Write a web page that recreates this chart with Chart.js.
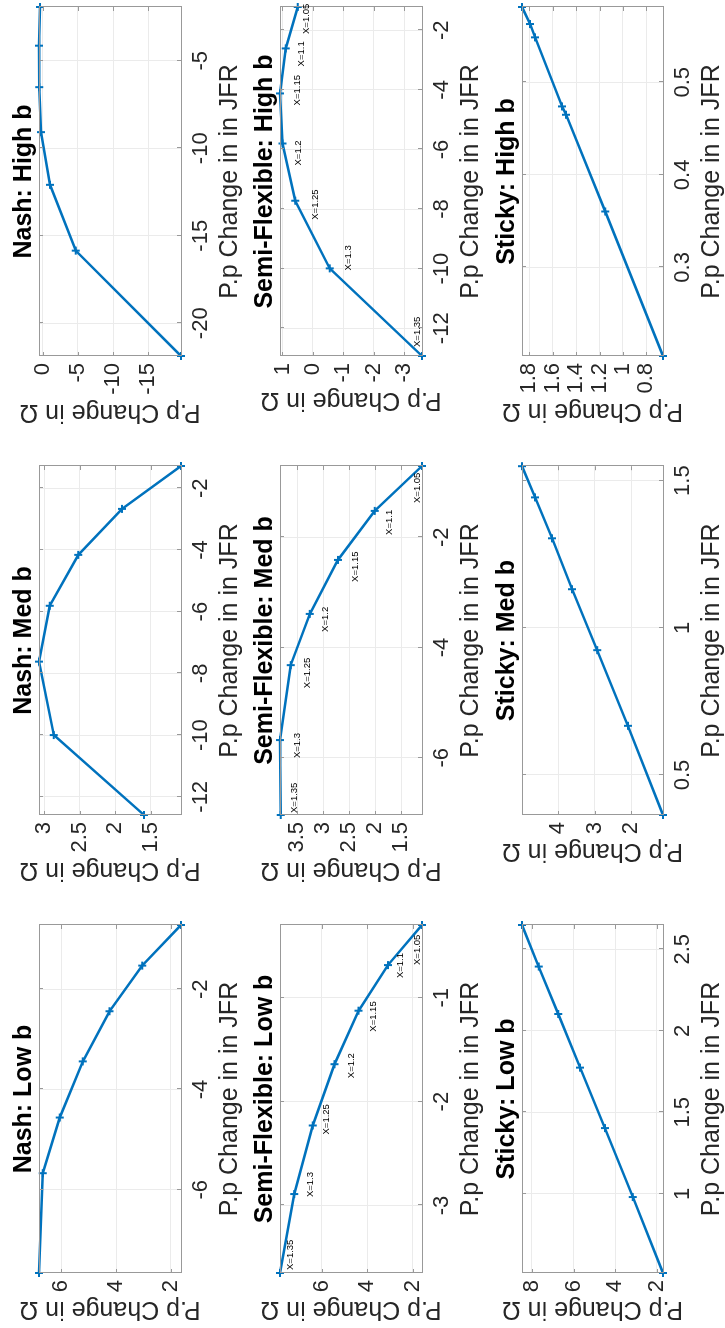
<!DOCTYPE html>
<html>
<head>
<meta charset="utf-8">
<script src="https://cdn.jsdelivr.net/npm/chart.js@4.4.1/dist/chart.umd.min.js"></script>
<style>
  html, body { margin: 0; padding: 0; background: #fff; overflow: hidden; width: 725px; height: 1328px; }
  /* the 3x3 figure is laid out landscape and turned a quarter turn */
  #fig { position: absolute; left: 0; top: 0; width: 1328px; height: 725px; background: #fff;
         transform-origin: 0 0; transform: translate(0, 1328px) rotate(-90deg); }
  #fig canvas { position: absolute; }
</style>
</head>
<body>
<div id="fig"></div>
<script>
// ---- data: percentage-point changes in JFR (x) and in Ω (y) ----
const markupLabels = ['X=1.35', 'X=1.3', 'X=1.25', 'X=1.2', 'X=1.15', 'X=1.1', 'X=1.05'];

const nashLowJFR    = [-7.66, -5.67, -4.56, -3.44, -2.44, -1.53, -0.72];
const nashLowOmega  = [6.82, 6.68, 6.06, 5.22, 4.24, 3.05, 1.63];
const nashMedJFR    = [-12.59, -10.0, -7.62, -5.81, -4.16, -2.67, -1.28];
const nashMedOmega  = [1.595, 2.863, 3.071, 2.92, 2.518, 1.903, 1.075];
const nashHighJFR   = [-21.87, -15.85, -12.09, -9.08, -6.51, -4.14, -1.93];
const nashHighOmega = [-19.66, -4.70, -1.05, 0.24, 0.50, 0.52, 0.38];

const semiLowJFR    = [-3.65, -2.89, -2.23, -1.64, -1.125, -0.686, -0.30];
const semiLowOmega  = [7.84, 7.21, 6.40, 5.44, 4.38, 3.09, 1.59];
const semiMedJFR    = [-7.04, -5.68, -4.32, -3.39, -2.41, -1.52, -0.705];
const semiMedOmega  = [3.82, 3.835, 3.63, 3.26, 2.72, 2.01, 1.10];
const semiHighJFR   = [-12.93, -9.99, -7.72, -5.80, -4.12, -2.61, -1.22];
const semiHighOmega = [-3.58, -0.55, 0.58, 1.0, 1.08, 0.89, 0.50];

const stickyLowJFR    = [0.514, 0.980, 1.403, 1.774, 2.103, 2.394, 2.649];
const stickyLowOmega  = [1.71, 3.16, 4.50, 5.69, 6.74, 7.68, 8.48];
const stickyMedJFR    = [0.364, 0.667, 0.924, 1.131, 1.304, 1.443, 1.549];
const stickyMedOmega  = [1.128, 2.092, 2.936, 3.624, 4.174, 4.642, 5.0];
const stickyHighJFR   = [0.2043, 0.3604, 0.4649, 0.4739, 0.5485, 0.5629, 0.5813];
const stickyHighOmega = [0.657, 1.151, 1.486, 1.52, 1.751, 1.794, 1.863];

// ---- tick values ----
const nashLowXTicks = [-6, -4, -2],                 nashLowYTicks = [2, 4, 6];
const nashMedXTicks = [-12, -10, -8, -6, -4, -2],   nashMedYTicks = [1.5, 2, 2.5, 3];
const nashHighXTicks = [-20, -15, -10, -5],         nashHighYTicks = [-15, -10, -5, 0];
const semiLowXTicks = [-3, -2, -1],                 semiLowYTicks = [2, 4, 6];
const semiMedXTicks = [-6, -4, -2],                 semiMedYTicks = [1.5, 2, 2.5, 3, 3.5];
const semiHighXTicks = [-12, -10, -8, -6, -4, -2],  semiHighYTicks = [-3, -2, -1, 0, 1];
const stickyLowXTicks = [1, 1.5, 2, 2.5],           stickyLowYTicks = [2, 4, 6, 8];
const stickyMedXTicks = [0.5, 1, 1.5],              stickyMedYTicks = [2, 3, 4];
const stickyHighXTicks = [0.3, 0.4, 0.5],           stickyHighYTicks = [0.8, 1, 1.2, 1.4, 1.6, 1.8];

// ---- offsets (px) of the markup annotations from their points ----
const semiLowLabelShift  = [[3, 10], [-3, 16], [-9, 14], [-14, 17], [-21, 15], [-13, 12], [-40, -5]];
const semiMedLabelShift  = [[2, 14], [-18, 17], [-23, 17], [-18, 16], [-22, 17], [-24, 15], [-37, -5]];
const semiHighLabelShift = [[9, -5], [-2, 19], [-19, 20], [-22, 16], [-12, 17], [-18, 16], [-27, 9]];

// ---- layout of the plot boxes in the landscape figure ----
const colLeft = [55, 513, 972], colWidth = [348, 349, 349];
const rowTop = [39, 280, 522], rowHeight = [142, 142, 141];
const PAD_L = 80, PAD_T = 39, PAD_R = 8, PAD_B = 70;

const FONT = "'Liberation Sans', Arial, Helvetica, sans-serif";
const TICK_SIZE = 22, LABEL_SIZE = 25, TITLE_SIZE = 25;
const Y_TICK_PAD = 7;
const BLUE = '#0072BD';
const AXIS_GREY = '#999999';
const GRID_GREY = '#ebebeb';
const TEXT_DARK = '#262626';

const panels = [
  { row: 0, col: 0, title: 'Nash: Low b',  x: nashLowJFR,  y: nashLowOmega,  xt: nashLowXTicks,  yt: nashLowYTicks },
  { row: 0, col: 1, title: 'Nash: Med b',  x: nashMedJFR,  y: nashMedOmega,  xt: nashMedXTicks,  yt: nashMedYTicks },
  { row: 0, col: 2, title: 'Nash: High b', x: nashHighJFR, y: nashHighOmega, xt: nashHighXTicks, yt: nashHighYTicks },
  { row: 1, col: 0, title: 'Semi-Flexible: Low b',  x: semiLowJFR,  y: semiLowOmega,  xt: semiLowXTicks,  yt: semiLowYTicks,  labels: markupLabels, shift: semiLowLabelShift },
  { row: 1, col: 1, title: 'Semi-Flexible: Med b',  x: semiMedJFR,  y: semiMedOmega,  xt: semiMedXTicks,  yt: semiMedYTicks,  labels: markupLabels, shift: semiMedLabelShift },
  { row: 1, col: 2, title: 'Semi-Flexible: High b', x: semiHighJFR, y: semiHighOmega, xt: semiHighXTicks, yt: semiHighYTicks, labels: markupLabels, shift: semiHighLabelShift },
  { row: 2, col: 0, title: 'Sticky: Low b',  x: stickyLowJFR,  y: stickyLowOmega,  xt: stickyLowXTicks,  yt: stickyLowYTicks },
  { row: 2, col: 1, title: 'Sticky: Med b',  x: stickyMedJFR,  y: stickyMedOmega,  xt: stickyMedXTicks,  yt: stickyMedYTicks },
  { row: 2, col: 2, title: 'Sticky: High b', x: stickyHighJFR, y: stickyHighOmega, xt: stickyHighXTicks, yt: stickyHighYTicks },
];

// box, inward tick marks, title, y label (set just outside the tick labels) and point annotations
const axesDecor = {
  id: 'axesDecor',
  afterDatasetsDraw(chart, args, opts) {
    const { ctx, chartArea: a, scales } = chart;
    ctx.save();
    ctx.strokeStyle = AXIS_GREY;
    ctx.lineWidth = 1;
    ctx.strokeRect(Math.round(a.left) + 0.5, Math.round(a.top) + 0.5,
                   Math.round(a.right - a.left), Math.round(a.bottom - a.top));
    const tl = 4;
    ctx.beginPath();
    scales.x.ticks.forEach(t => {
      const px = Math.round(scales.x.getPixelForValue(t.value)) + 0.5;
      ctx.moveTo(px, a.bottom); ctx.lineTo(px, a.bottom - tl);
      ctx.moveTo(px, a.top); ctx.lineTo(px, a.top + tl);
    });
    scales.y.ticks.forEach(t => {
      const py = Math.round(scales.y.getPixelForValue(t.value)) + 0.5;
      ctx.moveTo(a.left, py); ctx.lineTo(a.left + tl, py);
      ctx.moveTo(a.right, py); ctx.lineTo(a.right - tl, py);
    });
    ctx.stroke();

    // title
    ctx.fillStyle = '#000';
    ctx.font = 'bold ' + TITLE_SIZE + 'px ' + FONT;
    ctx.textAlign = 'center';
    ctx.textBaseline = 'alphabetic';
    ctx.fillText(opts.title, (a.left + a.right) / 2, a.top - 8);

    // y-axis label
    ctx.font = TICK_SIZE + 'px ' + FONT;
    let widest = 0;
    scales.y.ticks.forEach(t => { widest = Math.max(widest, ctx.measureText(String(t.value)).width); });
    const xb = a.left - Y_TICK_PAD - widest - 10;
    ctx.save();
    ctx.translate(xb, (a.top + a.bottom) / 2);
    ctx.rotate(-Math.PI / 2);
    ctx.font = LABEL_SIZE + 'px ' + FONT;
    ctx.fillStyle = TEXT_DARK;
    ctx.textAlign = 'center';
    ctx.textBaseline = 'alphabetic';
    ctx.fillText('P.p Change in Ω', 0, 0);
    ctx.restore();

    // markup annotations
    if (opts.labels) {
      ctx.font = '9.5px ' + FONT;
      ctx.textAlign = 'left';
      ctx.textBaseline = 'middle';
      ctx.fillStyle = '#000';
      const meta = chart.getDatasetMeta(0);
      meta.data.forEach((pt, i) => {
        const [dx, dy] = opts.shift[i];
        ctx.fillText(opts.labels[i], pt.x + dx, pt.y + dy);
      });
    }
    ctx.restore();
  }
};

const fig = document.getElementById('fig');

panels.forEach(p => {
  const w = PAD_L + colWidth[p.col] + PAD_R;
  const h = PAD_T + rowHeight[p.row] + PAD_B;
  const cv = document.createElement('canvas');
  cv.width = w; cv.height = h;
  cv.style.width = w + 'px'; cv.style.height = h + 'px';
  cv.style.left = (colLeft[p.col] - PAD_L) + 'px';
  cv.style.top = (rowTop[p.row] - PAD_T) + 'px';
  fig.appendChild(cv);

  const tickFont = { family: FONT, size: TICK_SIZE };
  const labelFont = { family: FONT, size: LABEL_SIZE };

  new Chart(cv.getContext('2d'), {
    type: 'line',
    data: {
      datasets: [{
        data: p.x.map((v, i) => ({ x: v, y: p.y[i] })),
        borderColor: BLUE,
        borderWidth: 2.5,
        pointStyle: 'cross',
        pointRadius: 4,
        pointBorderWidth: 2,
        pointBorderColor: BLUE,
        pointBackgroundColor: BLUE,
        tension: 0,
        clip: false
      }]
    },
    options: {
      responsive: false,
      animation: false,
      devicePixelRatio: 1,
      layout: { padding: { top: PAD_T, right: PAD_R, left: 0, bottom: 0 } },
      plugins: {
        legend: { display: false },
        tooltip: { enabled: false },
        axesDecor: { title: p.title, labels: p.labels, shift: p.shift }
      },
      scales: {
        x: {
          type: 'linear',
          min: Math.min(...p.x),
          max: Math.max(...p.x),
          afterBuildTicks: s => { s.ticks = p.xt.map(v => ({ value: v })); },
          afterFit: s => { s.height = PAD_B; },
          border: { display: false },
          grid: { color: GRID_GREY, lineWidth: 1, drawTicks: false },
          ticks: { padding: 7, color: TEXT_DARK, font: tickFont, maxRotation: 0, autoSkip: false,
                   callback: v => String(v) },
          title: { display: true, text: 'P.p Change in in JFR', color: TEXT_DARK, font: labelFont,
                   padding: { top: 0, bottom: 6 } }
        },
        y: {
          type: 'linear',
          min: Math.min(...p.y),
          max: Math.max(...p.y),
          afterBuildTicks: s => { s.ticks = p.yt.map(v => ({ value: v })); },
          afterFit: s => { s.width = PAD_L; },
          border: { display: false },
          grid: { color: GRID_GREY, lineWidth: 1, drawTicks: false },
          ticks: { padding: Y_TICK_PAD, color: TEXT_DARK, font: tickFont, autoSkip: false,
                   callback: v => String(v) },
          title: { display: false }
        }
      }
    },
    plugins: [axesDecor]
  });
});
</script>
</body>
</html>
